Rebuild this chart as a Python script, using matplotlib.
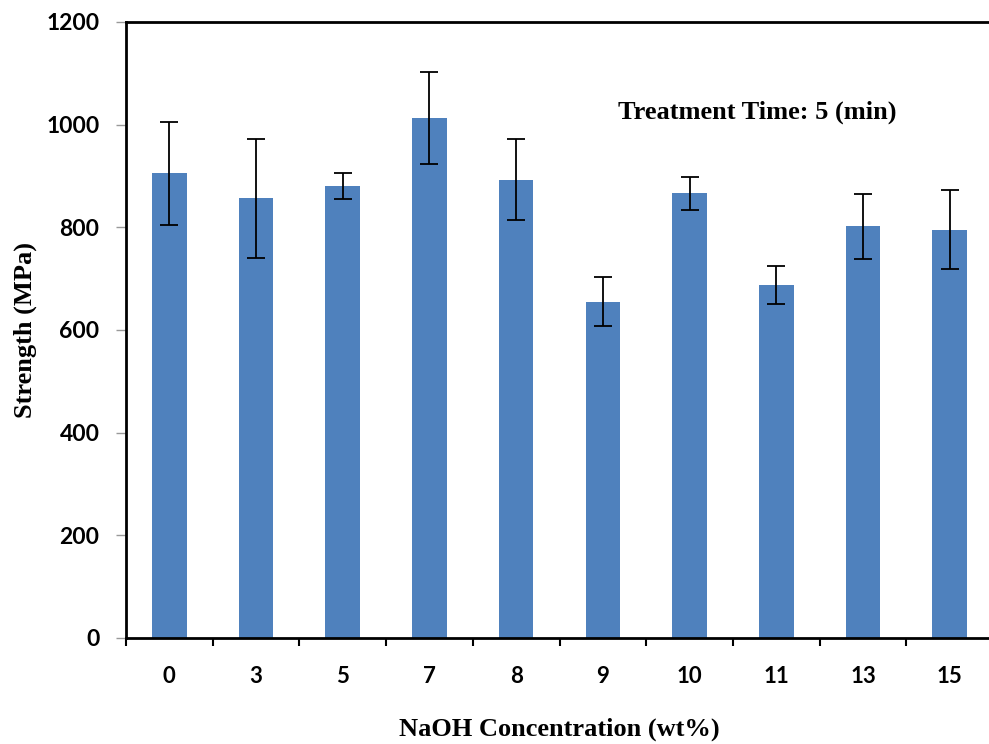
import matplotlib
matplotlib.use("Agg")
import matplotlib.pyplot as plt
import numpy as np

# NaOH concentration (wt%) and tensile strength (MPa) with standard deviation
concentrations = ["0", "3", "5", "7", "8", "9", "10", "11", "13", "15"]
strength = [905, 857, 881, 1013, 893, 655, 866, 688, 802, 795]
strength_sd = [101, 116, 25, 90, 79, 48, 32, 37, 63, 77]

y_ticks = [0, 200, 400, 600, 800, 1000, 1200]

fig = plt.figure(figsize=(9.89, 7.44), dpi=100)
ax = fig.add_axes([126 / 989, 106 / 744, (993 - 126) / 989, 616 / 744])

x = np.arange(len(concentrations))
ax.bar(x, strength, width=0.4, color="#4f81bd", zorder=2)
ax.errorbar(x, strength, yerr=strength_sd, fmt="none", ecolor="black",
            elinewidth=1.3, capsize=6.5, capthick=1.3, zorder=3)

ax.set_xlim(-0.5, len(concentrations) - 0.5)
ax.set_ylim(0, 1200)

# Category labels at bar centres, boundary tick marks between categories
ax.set_xticks(x)
ax.set_xticklabels(concentrations, fontfamily="Lato", fontweight="bold", fontsize=16)
ax.tick_params(axis="x", which="major", length=0, pad=20)
ax.set_xticks(np.arange(len(concentrations)) - 0.5, minor=True)
ax.tick_params(axis="x", which="minor", length=6, width=1.5, color="black", direction="out")

ax.set_yticks(y_ticks)
ax.set_yticklabels([str(v) for v in y_ticks], fontfamily="Lato", fontweight="bold", fontsize=16.5)
ax.tick_params(axis="y", length=7, width=1.0, color="#999999", pad=12)

for side in ["left", "bottom", "top"]:
    ax.spines[side].set_linewidth(2.0)
    ax.spines[side].set_color("black")
ax.spines["right"].set_visible(False)

ax.set_xlabel("NaOH Concentration (wt%)", fontfamily="Liberation Serif",
              fontweight="bold", fontsize=19, labelpad=22)
ax.set_ylabel("Strength (MPa)", fontfamily="Liberation Serif",
              fontweight="bold", fontsize=19, labelpad=7)

ax.text(6.78, 1025, "Treatment Time: 5 (min)", fontfamily="Liberation Serif",
        fontweight="bold", fontsize=19, ha="center", va="center")

fig.savefig("out.png", dpi=100)
